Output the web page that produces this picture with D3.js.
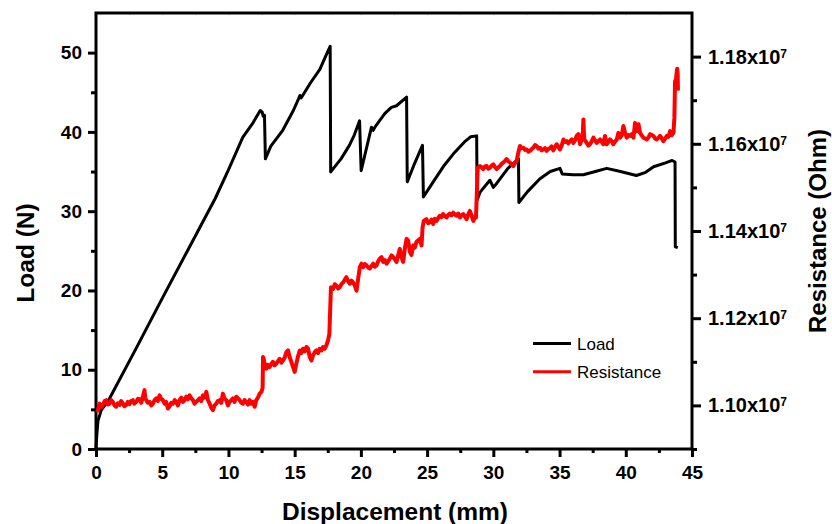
<!DOCTYPE html>
<html>
<head>
<meta charset="utf-8">
<script src="https://d3js.org/d3.v7.min.js"></script>
<style>
    body { margin: 0; background: #fff; }
    text { font-family: "Liberation Sans", Arial, sans-serif; }
</style>
</head>
<body>
<svg id="chart" width="832" height="524"></svg>
<script>
var displacementTicks = [0, 5, 10, 15, 20, 25, 30, 35, 40, 45];
var displacementMinor = [2.5, 7.5, 12.5, 17.5, 22.5, 27.5, 32.5, 37.5, 42.5];
var loadTicks = [0, 10, 20, 30, 40, 50];
var loadMinor = [5, 15, 25, 35, 45];
// resistance in units of 10^7 Ohm
var resistanceTicks = [1.10, 1.12, 1.14, 1.16, 1.18];
var resistanceMinor = [1.09, 1.11, 1.13, 1.15, 1.17];
var seriesNames = ["Load", "Resistance"];

// [displacement (mm), load (N)]
var loadData = [
    [0, 0], [0.05, 1.5], [0.1, 2.6], [0.15, 3.6], [0.4, 4.9], [1.0, 6.3], [3.0, 12.6],
    [5.0, 19.0], [7.0, 25.3], [9.0, 31.6], [10.0, 35.2], [11.08, 39.3],
    [11.8, 41.0], [12.4, 42.7], [12.55, 42.5], [12.62, 42.0], [12.72, 42.1], [12.79, 36.6],
    [13.2, 38.2], [14.1, 40.2], [14.9, 42.7], [15.3, 44.2], [15.4, 44.6], [15.5, 44.3],
    [16.2, 46.2], [16.9, 47.9], [17.3, 49.4], [17.68, 50.8], [17.72, 34.95], [18.5, 36.6],
    [19.13, 38.3], [19.5, 39.6], [19.9, 41.4], [20.02, 35.1], [20.4, 37.8], [20.8, 40.6],
    [20.93, 40.2], [21.1, 40.7], [21.8, 42.3], [22.3, 43.1], [22.69, 43.3], [23.45, 44.4],
    [23.5, 33.7], [24.0, 35.8], [24.65, 38.3], [24.72, 31.8], [25.5, 33.8], [26.3, 35.8],
    [26.97, 37.2], [27.8, 38.7], [28.3, 39.4], [28.74, 39.5], [28.78, 31.4], [29.0, 32.4],
    [29.74, 33.9], [30.0, 33.0], [30.25, 33.5], [31.1, 35.4], [31.9, 36.6], [31.93, 31.1],
    [32.6, 32.5], [33.52, 34.1], [34.3, 35.0], [35.03, 35.4], [35.2, 34.7], [36.0, 34.6],
    [36.8, 34.6], [37.7, 35.0], [38.56, 35.4], [39.6, 35.0], [40.8, 34.5], [41.5, 34.9],
    [42.1, 35.6], [43.0, 36.1], [43.5, 36.4], [43.72, 36.2], [43.74, 25.5], [43.93, 25.4]
];

// [displacement (mm), resistance (10^7 Ohm)]
var resistanceData = [
    [0.1, 1.0984], [0.26, 1.1004], [0.4, 1.0996], [0.52, 1.1001], [0.65, 1.1010], [0.77, 1.1012],
    [0.9, 1.1002], [1.02, 1.1004], [1.15, 1.1012], [1.27, 1.1008], [1.4, 1.1000], [1.52, 1.0997],
    [1.65, 1.1005], [1.78, 1.1001], [1.9, 1.1010], [2.03, 1.1004], [2.15, 1.0998], [2.28, 1.1001],
    [2.4, 1.1008], [2.53, 1.1003], [2.65, 1.1010], [2.78, 1.1012], [2.9, 1.1004], [3.04, 1.1008],
    [3.16, 1.1015], [3.29, 1.1014], [3.42, 1.1006], [3.54, 1.1020], [3.66, 1.1035], [3.72, 1.1018],
    [3.79, 1.1012], [3.92, 1.1006], [4.04, 1.1008], [4.17, 1.1000], [4.3, 1.1004], [4.42, 1.1012],
    [4.55, 1.1016], [4.67, 1.1010], [4.8, 1.1023], [4.92, 1.1015], [5.05, 1.1012], [5.18, 1.1004],
    [5.3, 1.1008], [5.43, 1.0993], [5.56, 1.0998], [5.68, 1.1006], [5.81, 1.1004], [5.94, 1.1012],
    [6.06, 1.1008], [6.18, 1.1000], [6.31, 1.1012], [6.44, 1.1018], [6.56, 1.1008], [6.69, 1.1012],
    [6.82, 1.1020], [6.94, 1.1014], [7.07, 1.1023], [7.2, 1.1016], [7.32, 1.1012], [7.44, 1.1004],
    [7.57, 1.1008], [7.7, 1.1012], [7.82, 1.1016], [7.95, 1.1010], [8.07, 1.1023], [8.2, 1.1018],
    [8.33, 1.1031], [8.45, 1.1012], [8.58, 1.1004], [8.7, 1.0995], [8.83, 1.0989], [8.95, 1.1000],
    [9.08, 1.1004], [9.2, 1.1010], [9.33, 1.1012], [9.46, 1.1006], [9.58, 1.1027], [9.7, 1.1016],
    [9.84, 1.1012], [9.96, 1.1000], [10.09, 1.1008], [10.22, 1.1012], [10.34, 1.1016], [10.46, 1.1008],
    [10.59, 1.1020], [10.72, 1.1016], [10.85, 1.1012], [10.97, 1.1006], [11.1, 1.1004], [11.22, 1.1012],
    [11.35, 1.1008], [11.48, 1.1002], [11.6, 1.1012], [11.72, 1.1004], [11.85, 1.1008], [11.98, 1.0997],
    [12.1, 1.1012], [12.23, 1.1018], [12.36, 1.1027], [12.49, 1.1031], [12.58, 1.1040],
    [12.61, 1.1111], [12.66, 1.1107], [12.75, 1.1092], [12.86, 1.1084], [12.98, 1.1093], [13.11, 1.1088],
    [13.24, 1.1095], [13.36, 1.1100], [13.49, 1.1092], [13.62, 1.1096], [13.74, 1.1102], [13.87, 1.1107],
    [14.0, 1.1098], [14.12, 1.1103], [14.25, 1.1110], [14.37, 1.1122], [14.5, 1.1126], [14.62, 1.1111],
    [14.75, 1.1100], [14.88, 1.1088], [15.0, 1.1077], [15.13, 1.1096], [15.25, 1.1112], [15.38, 1.1126],
    [15.5, 1.1120], [15.63, 1.1130], [15.76, 1.1124], [15.89, 1.1134], [16.01, 1.1130], [16.14, 1.1111],
    [16.27, 1.1103], [16.39, 1.1115], [16.52, 1.1122], [16.64, 1.1126], [16.77, 1.1120], [16.89, 1.1130],
    [17.02, 1.1126], [17.14, 1.1134], [17.27, 1.1130], [17.4, 1.1138], [17.52, 1.1149], [17.62, 1.1164],
    [17.68, 1.1218], [17.74, 1.1271], [17.9, 1.1267], [18.03, 1.1278], [18.15, 1.1275], [18.28, 1.1268],
    [18.4, 1.1271], [18.53, 1.1278], [18.66, 1.1282], [18.78, 1.1288], [18.91, 1.1294], [19.04, 1.1285],
    [19.16, 1.1279], [19.29, 1.1286], [19.41, 1.1282], [19.54, 1.1275], [19.67, 1.1263], [19.79, 1.1290],
    [19.92, 1.1317], [20.05, 1.1325], [20.18, 1.1317], [20.3, 1.1324], [20.43, 1.1321], [20.55, 1.1316],
    [20.68, 1.1314], [20.8, 1.1320], [20.93, 1.1325], [21.05, 1.1318], [21.18, 1.1321], [21.3, 1.1330],
    [21.43, 1.1337], [21.56, 1.1340], [21.69, 1.1329], [21.82, 1.1333], [21.94, 1.1325], [22.07, 1.1331],
    [22.19, 1.1337], [22.32, 1.1344], [22.44, 1.1340], [22.57, 1.1335], [22.69, 1.1329], [22.82, 1.1345],
    [22.94, 1.1359], [23.07, 1.1340], [23.19, 1.1329], [23.32, 1.1360], [23.45, 1.1382], [23.57, 1.1378],
    [23.7, 1.1352], [23.82, 1.1345], [23.95, 1.1367], [24.07, 1.1362], [24.2, 1.1375], [24.32, 1.1378],
    [24.45, 1.1382], [24.58, 1.1367], [24.66, 1.1409], [24.75, 1.1423], [24.95, 1.1427], [25.08, 1.1418],
    [25.2, 1.1420], [25.33, 1.1426], [25.46, 1.1416], [25.58, 1.1428], [25.71, 1.1423], [25.84, 1.1430],
    [25.96, 1.1435], [26.09, 1.1432], [26.21, 1.1439], [26.34, 1.1434], [26.47, 1.1431], [26.6, 1.1437],
    [26.72, 1.1440], [26.85, 1.1436], [26.97, 1.1442], [27.1, 1.1438], [27.22, 1.1435], [27.35, 1.1440],
    [27.48, 1.1431], [27.6, 1.1436], [27.73, 1.1439], [27.86, 1.1433], [27.98, 1.1427], [28.1, 1.1438],
    [28.23, 1.1446], [28.36, 1.1435], [28.49, 1.1423], [28.6, 1.1432], [28.69, 1.1431], [28.76, 1.1492],
    [28.82, 1.1545], [28.99, 1.1549], [29.12, 1.1546], [29.24, 1.1542], [29.37, 1.1548], [29.5, 1.1549],
    [29.62, 1.1543], [29.75, 1.1545], [29.88, 1.1550], [30.0, 1.1553], [30.12, 1.1547], [30.25, 1.1542],
    [30.38, 1.1546], [30.5, 1.1549], [30.63, 1.1554], [30.75, 1.1557], [30.88, 1.1561], [31.0, 1.1565],
    [31.13, 1.1560], [31.26, 1.1557], [31.38, 1.1553], [31.51, 1.1549], [31.64, 1.1556], [31.76, 1.1561],
    [31.89, 1.1580], [32.01, 1.1595], [32.14, 1.1590], [32.27, 1.1591], [32.4, 1.1586], [32.52, 1.1587],
    [32.64, 1.1582], [32.77, 1.1584], [32.9, 1.1588], [33.02, 1.1591], [33.15, 1.1597], [33.27, 1.1595],
    [33.4, 1.1589], [33.52, 1.1591], [33.65, 1.1585], [33.77, 1.1587], [33.9, 1.1590], [34.03, 1.1584],
    [34.15, 1.1588], [34.28, 1.1590], [34.4, 1.1594], [34.53, 1.1585], [34.65, 1.1592], [34.78, 1.1599],
    [34.9, 1.1594], [35.03, 1.1587], [35.16, 1.1596], [35.29, 1.1610], [35.41, 1.1604], [35.54, 1.1606],
    [35.66, 1.1601], [35.79, 1.1606], [35.92, 1.1610], [36.04, 1.1602], [36.17, 1.1608], [36.29, 1.1618],
    [36.42, 1.1622], [36.55, 1.1599], [36.67, 1.1610], [36.76, 1.1625], [36.8, 1.1656], [36.84, 1.1625],
    [36.87, 1.1610], [37.05, 1.1602], [37.18, 1.1596], [37.3, 1.1599], [37.42, 1.1605], [37.55, 1.1614],
    [37.68, 1.1608], [37.81, 1.1602], [37.93, 1.1606], [38.06, 1.1610], [38.19, 1.1604], [38.31, 1.1599],
    [38.43, 1.1618], [38.56, 1.1599], [38.68, 1.1604], [38.81, 1.1610], [38.94, 1.1606], [39.06, 1.1599],
    [39.19, 1.1605], [39.32, 1.1610], [39.44, 1.1625], [39.57, 1.1614], [39.7, 1.1620], [39.82, 1.1641],
    [39.95, 1.1625], [40.07, 1.1614], [40.2, 1.1620], [40.33, 1.1618], [40.45, 1.1622], [40.58, 1.1614],
    [40.7, 1.1648], [40.83, 1.1629], [40.96, 1.1645], [41.08, 1.1625], [41.21, 1.1619], [41.34, 1.1614],
    [41.46, 1.1612], [41.59, 1.1610], [41.72, 1.1615], [41.84, 1.1622], [41.97, 1.1620], [42.09, 1.1618],
    [42.22, 1.1612], [42.34, 1.1610], [42.47, 1.1614], [42.59, 1.1618], [42.72, 1.1612], [42.84, 1.1606],
    [42.97, 1.1612], [43.1, 1.1618], [43.22, 1.1616], [43.35, 1.1629], [43.48, 1.1620], [43.6, 1.1625],
    [43.67, 1.1660], [43.72, 1.1744], [43.76, 1.1735], [43.82, 1.1758], [43.88, 1.1772], [43.92, 1.1760],
    [43.94, 1.1722]
];

var svg = d3.select("#chart");

var plotLeft = 96, plotRight = 692, plotTop = 13, plotBottom = 449;

var x = d3.scaleLinear().domain([0, 45]).range([plotLeft, plotRight]);
var yLoad = d3.scaleLinear().domain([0, 55]).range([plotBottom, plotTop]);
var yRes = d3.scaleLinear().domain([1.09, 1.19]).range([plotBottom, plotTop]);

function styleAxis(g, size) {
    g.select(".domain").remove();
    g.selectAll(".tick line")
        .attr("stroke", "#000")
        .attr("stroke-width", 3);
    g.selectAll(".tick text")
        .attr("fill", "#000")
        .style("font-size", size + "px")
        .style("font-weight", "bold");
}

// minor ticks first, majors on top
svg.append("g")
    .attr("transform", "translate(0," + plotBottom + ")")
    .call(d3.axisBottom(x).tickValues(displacementMinor).tickSize(4).tickFormat(""))
    .call(g => styleAxis(g, 19));

svg.append("g")
    .attr("transform", "translate(0," + plotBottom + ")")
    .call(d3.axisBottom(x).tickValues(displacementTicks).tickSize(8).tickPadding(9))
    .call(g => styleAxis(g, 19));

svg.append("g")
    .attr("transform", "translate(0," + plotTop + ")")
    .call(d3.axisTop(x).tickValues(displacementTicks.concat(displacementMinor)).tickSize(-2).tickFormat(""))
    .call(g => {
        g.select(".domain").remove();
        g.selectAll(".tick line").attr("stroke", "#bbb").attr("stroke-width", 1);
    });

svg.append("g")
    .attr("transform", "translate(" + plotLeft + ",0)")
    .call(d3.axisLeft(yLoad).tickValues(loadMinor).tickSize(5).tickFormat(""))
    .call(g => styleAxis(g, 19));

svg.append("g")
    .attr("transform", "translate(" + plotLeft + ",0)")
    .call(d3.axisLeft(yLoad).tickValues(loadTicks).tickSize(8).tickPadding(6))
    .call(g => styleAxis(g, 19));

svg.append("g")
    .attr("transform", "translate(" + plotRight + ",0)")
    .call(d3.axisRight(yRes).tickValues(resistanceMinor).tickSize(5).tickFormat(""))
    .call(g => styleAxis(g, 19));

var resAxis = svg.append("g")
    .attr("transform", "translate(" + plotRight + ",0)")
    .call(d3.axisRight(yRes).tickValues(resistanceTicks).tickSize(9).tickPadding(7).tickFormat(""))
    .call(g => styleAxis(g, 20));

resAxis.selectAll(".tick text").each(function (d) {
    var t = d3.select(this);
    t.append("tspan").text(d3.format(".2f")(d) + "x10");
    t.append("tspan")
        .attr("dy", "-0.5em")
        .style("font-size", "12px")
        .text("7");
});

// frame
svg.append("rect")
    .attr("x", plotLeft)
    .attr("y", plotTop)
    .attr("width", plotRight - plotLeft)
    .attr("height", plotBottom - plotTop)
    .attr("fill", "none")
    .attr("stroke", "#000")
    .attr("stroke-width", 3);

var loadLine = d3.line()
    .x(d => x(d[0]))
    .y(d => yLoad(d[1]));

var resLine = d3.line()
    .x(d => x(d[0]))
    .y(d => yRes(d[1]));

svg.append("path")
    .datum(loadData)
    .attr("d", loadLine)
    .attr("fill", "none")
    .attr("stroke", "#000")
    .attr("stroke-width", 3)
    .attr("stroke-linejoin", "round");

svg.append("path")
    .datum(resistanceData)
    .attr("d", resLine)
    .attr("fill", "none")
    .attr("stroke", "#ff0000")
    .attr("stroke-width", 4)
    .attr("stroke-linejoin", "round");

// axis titles
svg.append("text")
    .attr("x", 395)
    .attr("y", 520)
    .attr("text-anchor", "middle")
    .style("font-size", "24.5px")
    .style("font-weight", "bold")
    .text("Displacement (mm)");

svg.append("text")
    .attr("transform", "translate(34,253) rotate(-90)")
    .attr("text-anchor", "middle")
    .style("font-size", "24.5px")
    .style("font-weight", "bold")
    .text("Load (N)");

svg.append("text")
    .attr("transform", "translate(826,231) rotate(-90)")
    .attr("text-anchor", "middle")
    .style("font-size", "24px")
    .style("font-weight", "bold")
    .text("Resistance (Ohm)");

// legend
var colors = ["#000", "#ff0000"];
var legend = svg.append("g")
    .selectAll("g")
    .data(seriesNames)
    .join("g")
        .attr("transform", (d, i) => "translate(533," + (343.5 + i * 28.3) + ")");

legend.append("line")
    .attr("x1", 0)
    .attr("x2", 38)
    .attr("stroke", (d, i) => colors[i])
    .attr("stroke-width", 3);

legend.append("text")
    .attr("x", 44)
    .attr("y", 6.5)
    .style("font-size", "17px")
    .text(d => d);
</script>
</body>
</html>
